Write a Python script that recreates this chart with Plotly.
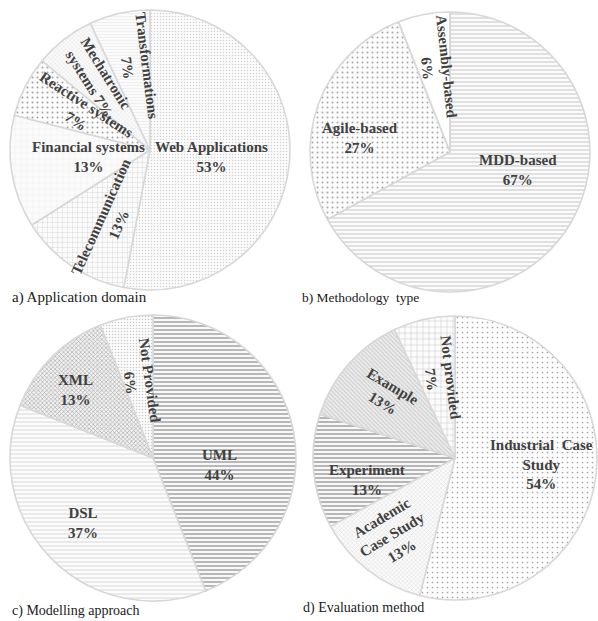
import math
import plotly.graph_objects as go

W, H = 598, 621

# ---------------- data ----------------
a_labels = ["Web Applications", "Telecommunication", "Financial systems",
            "Reactive systems", "Mechatronic systems", "Transformations"]
a_values = [53, 13, 13, 7, 7, 7]
a_display = ["Web Applications", "Telecommunication", "Financial systems",
             "Reactive systems", "Mechatronic<br>systems", "Transformations"]
a_sep = ["<br>", "<br>", "<br>", "<br>", " ", "<br>"]

b_labels = ["MDD-based", "Agile-based", "Assembly-based"]
b_values = [67, 27, 6]
b_display = ["MDD-based", "Agile-based", "Assembly-based"]
b_sep = ["<br>", "<br>", "<br>"]

c_labels = ["UML", "DSL", "XML", "Not Provided"]
c_values = [44, 37, 13, 6]
c_display = ["UML", "DSL", "XML", "Not Provided"]
c_sep = ["<br>", "<br>", "<br>", "<br>"]

d_labels = ["Industrial Case Study", "Academic Case Study", "Experiment",
            "Example", "Not provided"]
d_values = [54, 13, 13, 13, 7]
d_display = ["Industrial&nbsp; Case<br>Study", "Academic<br>Case Study",
             "Experiment", "Example", "Not provided"]
d_sep = ["<br>", "<br>", "<br>", "<br>", "<br>"]

captions = ["a) Application domain", "b) Methodology&nbsp; type",
            "c) Modelling approach", "d) Evaluation method"]

# ---------------- styles ----------------
# pie centre (px) and radius (px)
geom = [(150, 150, 140), (450, 152, 140), (153, 458, 143), (455, 458, 142)]
# label radial fraction, angular shift (deg), text rotation (deg)
lab_r = [[0.44, 0.58, 0.44, 0.56, 0.63, 0.60],
         [0.50, 0.65, 0.61],
         [0.47, 0.67, 0.72, 0.54],
         [0.61, 0.70, 0.64, 0.65, 0.57]]
lab_shift = [[1, -4.5, 2.5, 1, 1, 3.6],
             [-16, -11, 2],
             [17, 2, -4, 1],
             [-2.6, 1.5, -8.6, 1.4, 2]]
lab_rot = [[0, -66, 0, 33, 58, 83],
           [0, 0, 84],
           [0, 0, 0, 82],
           [0, -31, 0, 31, 83]]
patterns = [
    dict(shape=[".", "+", "+", ".", "x", "-"],
         fgcolor=["#d0d0d0", "#b8b8b8", "#e8e8e8", "#a0a0a0", "#dadada", "#e0e0e0"],
         bgcolor=["#fcfcfc", "#fbfbfb", "#fbfbfb", "#fcfcfc", "#fafafa", "#fbfbfb"],
         size=[3, 5, 6, 5, 3, 3], solidity=[0.2, 0.1, 0.1, 0.12, 0.2, 0.15]),
    dict(shape=["-", ".", ""],
         fgcolor=["#c4c4c4", "#a8a8a8", "#eeeeee"],
         bgcolor=["#fcfcfc", "#fcfcfc", "#f9f9f9"],
         size=[4, 5, 6], solidity=[0.25, 0.12, 0.1]),
    dict(shape=["-", "-", "x", "."],
         fgcolor=["#9c9c9c", "#d8d8d8", "#a4a4a4", "#c8c8c8"],
         bgcolor=["#f8f8f8", "#fcfcfc", "#f0f0f0", "#fcfcfc"],
         size=[4, 4, 3, 3], solidity=[0.35, 0.25, 0.35, 0.2]),
    dict(shape=[".", "x", "-", "\\", "+"],
         fgcolor=["#a4a4a4", "#d4d4d4", "#9a9a9a", "#c8c8c8", "#a8a8a8"],
         bgcolor=["#fdfdfd", "#fbfbfb", "#f7f7f7", "#ebebeb", "#fcfcfc"],
         size=[5, 3, 4, 3, 6], solidity=[0.09, 0.25, 0.35, 0.3, 0.1]),
]
caption_pos = [(10, 297, 15), (300, 297, 13.5), (10, 611, 14), (301, 608, 14)]

FONT = "Liberation Serif"
TXT = "#404040"

sets = [(a_labels, a_values, a_display, a_sep),
        (b_labels, b_values, b_display, b_sep),
        (c_labels, c_values, c_display, c_sep),
        (d_labels, d_values, d_display, d_sep)]

fig = go.Figure()
annotations = []
for k, (labels, values, disp, sep) in enumerate(sets):
    cx, cy, r = geom[k]
    fig.add_trace(go.Pie(
        labels=labels, values=values, sort=False, direction="clockwise",
        rotation=0, textinfo="none", hoverinfo="label+percent",
        domain=dict(x=[max(0, (cx - r) / W), min(1, (cx + r) / W)],
                    y=[max(0, 1 - (cy + r) / H), min(1, 1 - (cy - r) / H)]),
        marker=dict(line=dict(color="#d8d8d8", width=1.6),
                    pattern=patterns[k]),
    ))
    total = sum(values)
    cum = 0
    for i, v in enumerate(values):
        mid = (cum + v / 2) / total * 360 + lab_shift[k][i]
        cum += v
        d = lab_r[k][i] * r
        px = cx + d * math.sin(math.radians(mid))
        py = cy - d * math.cos(math.radians(mid))
        annotations.append(dict(
            x=px / W, y=1 - py / H, xref="paper", yref="paper",
            text=f"<b>{disp[i]}{sep[i]}{v}%</b>", showarrow=False,
            textangle=lab_rot[k][i], xanchor="center", yanchor="middle",
            font=dict(family=FONT, size=15, color=TXT)))
    x0, y0, fs = caption_pos[k]
    annotations.append(dict(
        x=x0 / W, y=1 - y0 / H, xref="paper", yref="paper", text=captions[k],
        showarrow=False, xanchor="left", yanchor="middle",
        font=dict(family=FONT, size=fs, color="#1a1a1a")))

fig.update_layout(width=W, height=H, margin=dict(l=0, r=0, t=0, b=0),
                  paper_bgcolor="white", plot_bgcolor="white",
                  showlegend=False, annotations=annotations)
fig.write_html("out.html", config={"displayModeBar": False},
               post_script="document.body.style.margin='0';"
                           "document.body.style.overflow='hidden';")
